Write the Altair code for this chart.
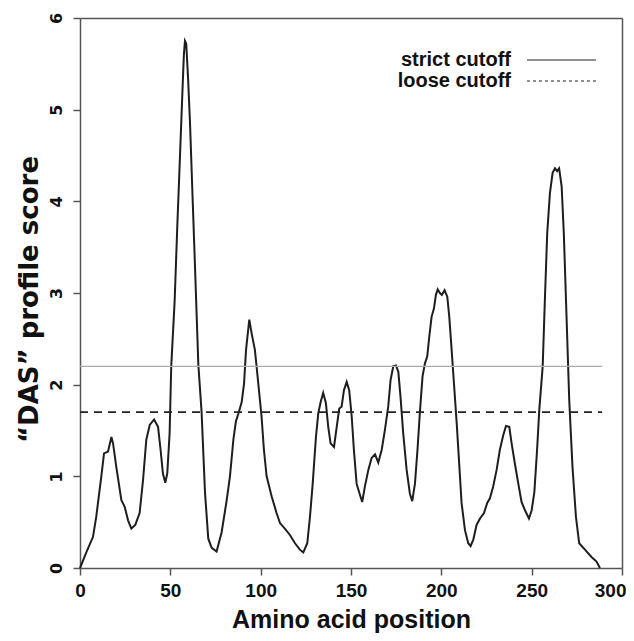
import altair as alt
import pandas as pd

# ---- data ----
positions = [0, 3.5, 7.2, 9.0, 11.8, 13.3, 15.5, 17.4, 18.3, 20.1, 22.9, 24.7, 26.6, 28.4,
             30.6, 33.0, 34.9, 36.7, 38.6, 41.0, 43.2, 44.6, 45.9, 47.2, 48.3, 49.6, 50.5,
             52.4, 53.8, 55.3, 56.6, 57.5, 58.1, 58.8, 59.8, 60.9, 62.3, 63.6, 65.5, 67.3,
             69.2, 71.0, 72.9, 75.6, 78.4, 81.2, 83.0, 84.9, 86.3, 87.6, 89.5, 90.8, 91.9,
             93.7, 95.0, 96.8, 98.7, 100.5, 101.8, 103.3, 106.1, 108.8, 110.7, 113.4, 116.2,
             119.0, 121.7, 123.6, 125.8, 127.3, 128.8, 130.6, 131.9, 133.2, 134.6, 136.1,
             137.4, 138.7, 140.6, 142.1, 143.5, 144.8, 146.1, 147.6, 149.0, 150.4, 151.6,
             153.1, 154.6, 156.2, 157.7, 159.6, 161.4, 163.3, 165.1, 167.0, 168.8, 170.6,
             171.9, 173.4, 174.9, 176.2, 177.4, 178.9, 180.8, 182.6, 183.9, 185.4, 186.8,
             188.2, 189.6, 190.9, 192.2, 193.3, 194.6, 195.9, 197.0, 198.0, 199.2, 200.3,
             201.8, 203.3, 204.4, 205.7, 207.0, 208.5, 210.0, 211.2, 213.1, 214.9, 216.2,
             217.7, 219.5, 221.4, 223.6, 225.4, 226.9, 228.7, 230.6, 232.4, 234.3, 235.8,
             237.6, 238.9, 240.7, 242.6, 244.4, 246.3, 248.5, 250.0, 251.5, 253.0, 254.2,
             256.1, 257.3, 258.6, 260.1, 261.6, 262.9, 264.1, 265.2, 266.6, 267.8, 269.3,
             270.8, 272.6, 274.5, 276.3, 279.5, 283.1, 285.9, 287.8]
scores = [0.0, 0.17, 0.34, 0.56, 1.0, 1.25, 1.27, 1.43, 1.36, 1.10, 0.74, 0.67, 0.52, 0.43,
          0.47, 0.60, 0.96, 1.40, 1.56, 1.62, 1.54, 1.29, 1.03, 0.93, 1.03, 1.47, 2.2,
          2.92, 3.7, 4.47, 5.15, 5.6, 5.75, 5.72, 5.35, 4.85, 4.05, 3.32, 2.22, 1.7,
          0.82, 0.32, 0.22, 0.18, 0.39, 0.74, 1.0, 1.4, 1.6, 1.68, 1.81, 2.01, 2.38,
          2.71, 2.56, 2.38, 2.01, 1.65, 1.29, 1.0, 0.78, 0.6, 0.49, 0.43, 0.36,
          0.27, 0.2, 0.17, 0.27, 0.56, 0.92, 1.43, 1.69, 1.81, 1.91, 1.8,
          1.54, 1.36, 1.32, 1.54, 1.74, 1.76, 1.94, 2.03, 1.94, 1.65, 1.29,
          0.92, 0.82, 0.72, 0.89, 1.07, 1.2, 1.24, 1.15, 1.29, 1.51, 1.76,
          2.05, 2.2, 2.21, 2.14, 1.87, 1.47, 1.07, 0.81, 0.73, 0.92, 1.29,
          1.72, 2.09, 2.23, 2.31, 2.52, 2.74, 2.83, 2.98, 3.04, 3.0, 2.98,
          3.03, 2.96, 2.74, 2.38, 2.01, 1.58, 1.1, 0.71, 0.41, 0.27, 0.24,
          0.31, 0.47, 0.54, 0.6, 0.71, 0.76, 0.89, 1.07, 1.29, 1.45, 1.55,
          1.54, 1.36, 1.14, 0.92, 0.72, 0.63, 0.54, 0.63, 0.83, 1.29, 1.72,
          2.2, 2.92, 3.65, 4.09, 4.31, 4.36, 4.33, 4.36, 4.16, 3.65, 2.74,
          1.83, 1.1, 0.56, 0.27, 0.2, 0.12, 0.07, 0.0]

cutoff_names = ["strict cutoff", "loose cutoff"]
cutoff_values = [2.2, 1.7]
cutoff_start = [0, 0]
cutoff_end = [289, 289]

x_ticks = [0, 50, 100, 150, 200, 250, 300]
y_ticks = [0, 1, 2, 3, 4, 5, 6]

FONT = "Liberation Sans"
VFONT = "DejaVu Sans"
W, H = 542, 550

curve_df = pd.DataFrame({"pos": positions, "score": scores})
cut_df = pd.DataFrame({"name": cutoff_names, "value": cutoff_values,
                       "start": cutoff_start, "end": cutoff_end})

x_scale = alt.Scale(domain=[0, 300], nice=False, zero=False)
y_scale = alt.Scale(domain=[0, 6], nice=False)

x_axis = alt.Axis(values=x_ticks, title="Amino acid position", grid=False,
                  tickSize=7, tickColor="#555", domainColor="#555", domainWidth=1.5, tickWidth=1.5,
                  labelFont=FONT, labelFontWeight="bold", labelFontSize=19, labelColor="#111",
                  labelPadding=15, labelBaseline="middle", labelFlush=False,
                  labelAlign={"condition": {"test": "datum.value == 300", "value": "right"},
                              "value": "center"},
                  labelOffset={"condition": {"test": "datum.value == 300", "value": 4},
                               "value": 0},
                  titleFont=FONT, titleFontWeight="bold", titleFontSize=25, titleColor="#111",
                  titleX=W / 2, titleY=59, titleBaseline="alphabetic", titleAlign="center")
y_axis = alt.Axis(values=y_ticks, title="\u201cDAS\u201d profile score", grid=False,
                  tickSize=7, tickColor="#555", domainColor="#555", domainWidth=1.5, tickWidth=1.5,
                  labelFont=VFONT, labelFontWeight="bold", labelFontSize=16, labelColor="#111",
                  labelAngle=270, labelAlign="center", labelBaseline="middle",
                  labelPadding=17, labelFlush=False,
                  titleFont=VFONT, titleFontWeight="bold", titleFontSize=26, titleColor="#111",
                  titleAngle=270, titleX=-51, titleY=H / 2 + 6, titleAlign="center",
                  titleBaseline="middle")

# axes used only to draw the top and right edges of the box
top_axis = alt.Axis(orient="top", labels=False, ticks=False, title=None, grid=False,
                    domainColor="#555", domainWidth=1.5)
right_axis = alt.Axis(orient="right", labels=False, ticks=False, title=None, grid=False,
                      domainColor="#555", domainWidth=1.5)

curve = alt.Chart(curve_df).mark_line(color="#1e1e1e", strokeWidth=2).encode(
    x=alt.X("pos:Q", scale=x_scale, axis=x_axis),
    y=alt.Y("score:Q", scale=y_scale, axis=y_axis),
)

frame = alt.Chart(curve_df).mark_point(opacity=0).encode(
    x=alt.X("pos:Q", scale=x_scale, axis=top_axis),
    y=alt.Y("score:Q", scale=y_scale, axis=right_axis),
)

strict = alt.Chart(cut_df).transform_filter(alt.datum.name == "strict cutoff").mark_rule(
    color="#aaaaaa", strokeWidth=1.2).encode(
    x=alt.X("start:Q", scale=x_scale, axis=None), x2="end:Q",
    y=alt.Y("value:Q", scale=y_scale, axis=None))

loose = alt.Chart(cut_df).transform_filter(alt.datum.name == "loose cutoff").mark_rule(
    color="#222222", strokeWidth=1.8, strokeDash=[8, 6]).encode(
    x=alt.X("start:Q", scale=x_scale, axis=None), x2="end:Q",
    y=alt.Y("value:Q", scale=y_scale, axis=None))

# legend (drawn manually: label left of the line sample)
leg_df = pd.DataFrame({"name": cutoff_names})
leg_strict_text = alt.Chart(leg_df).transform_filter(alt.datum.name == "strict cutoff").mark_text(
    font=FONT, fontWeight="bold", fontSize=20, align="right", baseline="middle", color="#111"
).encode(x=alt.value(431), y=alt.value(42), text="name:N")
leg_loose_text = alt.Chart(leg_df).transform_filter(alt.datum.name == "loose cutoff").mark_text(
    font=FONT, fontWeight="bold", fontSize=20, align="right", baseline="middle", color="#111"
).encode(x=alt.value(431), y=alt.value(63), text="name:N")
leg_strict = alt.Chart(leg_df).transform_filter(alt.datum.name == "strict cutoff").mark_rule(
    color="#222", strokeWidth=1.2).encode(
    x=alt.value(447), x2=alt.value(516), y=alt.value(42))
leg_loose = alt.Chart(leg_df).transform_filter(alt.datum.name == "loose cutoff").mark_rule(
    color="#222", strokeWidth=1.2, strokeDash=[3, 3]).encode(
    x=alt.value(447), x2=alt.value(516), y=alt.value(63))

chart = alt.layer(curve, frame, strict, loose, leg_strict_text, leg_loose_text,
                  leg_strict, leg_loose
).resolve_axis(x="independent", y="independent").properties(
    width=W, height=H,
    autosize=alt.AutoSizeParams(type="none"),
    padding={"left": 72, "top": 10, "right": 4, "bottom": 65},
    background="white",
)

chart.save("out.html", embed_options={"renderer": "svg", "actions": False})
